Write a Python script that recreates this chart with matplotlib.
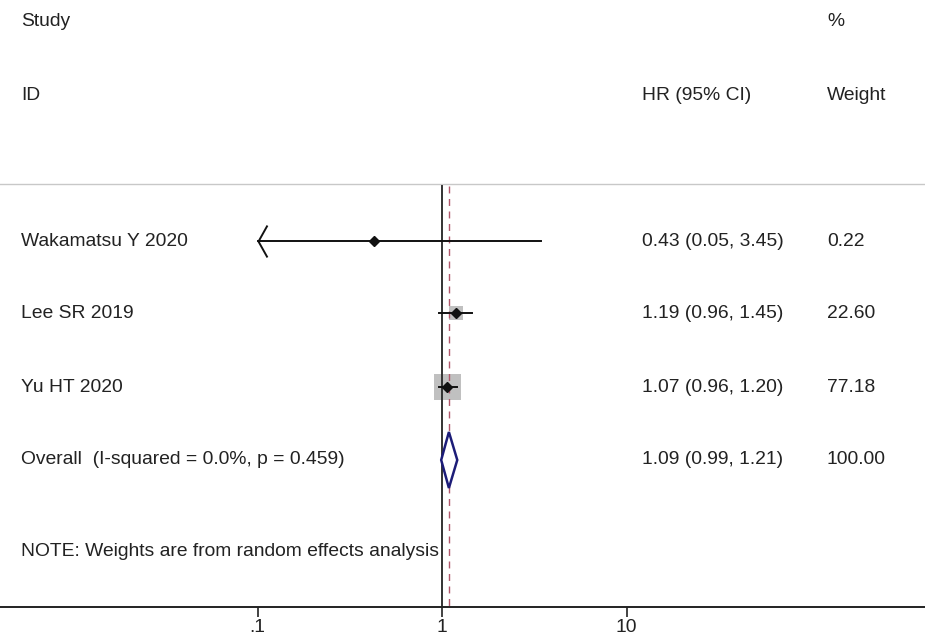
import numpy as np
import matplotlib
matplotlib.use("Agg")
import matplotlib.pyplot as plt
from matplotlib.path import Path
from matplotlib.patches import Polygon

plt.rcParams['font.family'] = ['Liberation Sans', 'DejaVu Sans']

# ── Study data ───────────────────────────────────────────────────────────────
studies = ["Wakamatsu Y 2020", "Lee SR 2019", "Yu HT 2020"]
hr      = [0.43, 1.19, 1.07]
ci_lo   = [0.05, 0.96, 0.96]
ci_hi   = [3.45, 1.45, 1.20]
weights = [0.22, 22.60, 77.18]

overall_label = "Overall  (I-squared = 0.0%, p = 0.459)"
overall_hr, overall_lo, overall_hi = 1.09, 0.99, 1.21
overall_weight = 100.00

note = "NOTE: Weights are from random effects analysis"
tick_vals   = [0.1, 1, 10]
tick_labels = [".1", "1", "10"]
x_min, x_max = 0.1, 10          # CIs beyond this get an arrow

# ── Layout (pixels) ──────────────────────────────────────────────────────────
W, H = 925, 639
AX_BOTTOM = 32
head_y = [22, 95]
row_y = [241, 313, 387]
overall_y = 460
note_y = 552
line_top = 186
sep_y = 184
px_per_dec = 184.5
x_one = 442
col_x = [21, 642, 827]
FS = 13.9

def fx(x): return x / W
def fy(y): return 1 - y / H

fig = plt.figure(figsize=(W / 100, H / 100), dpi=100)
ax = fig.add_axes([0, AX_BOTTOM / H, 1, (H - AX_BOTTOM) / H])
ax.set_xscale('log')
ax.set_xlim(10 ** (-x_one / px_per_dec), 10 ** ((W - x_one) / px_per_dec))
ax.set_ylim(H - AX_BOTTOM, 0)

for s in ['top', 'left', 'right']:
    ax.spines[s].set_visible(False)
ax.spines['bottom'].set_linewidth(1.4)
ax.spines['bottom'].set_color('#222222')
ax.set_yticks([])
ax.set_xticks(tick_vals)
ax.set_xticklabels(tick_labels)
ax.minorticks_off()
ax.tick_params(axis='x', length=7, width=1.2, color='#222222', pad=1.5,
               labelsize=FS, labelcolor='#222222')

# header separator
ax.axhline(sep_y, color='#c8c8c8', lw=1.0)

# null line and overall estimate line
ax.plot([1, 1], [line_top, H - AX_BOTTOM], color='#333333', lw=1.4, zorder=2)
ax.plot([overall_hr, overall_hr], [line_top, H - AX_BOTTOM],
        color='#b0566a', lw=1.0, ls=(0, (5, 4)), zorder=3)

# left arrow marker (tip at the data point)
arrow_left = Path([(0.56, 1), (0, 0), (0.56, -1)],
                  [Path.MOVETO, Path.LINETO, Path.LINETO])

for y, est, lo, hi, w in zip(row_y, hr, ci_lo, ci_hi, weights):
    side = 14.5 * np.sqrt(w / 22.60)
    ax.scatter([est], [y], marker='s', s=(side * 0.72) ** 2,
               color='#c0c0c0', edgecolors='none', zorder=1)
    lo_c, hi_c = max(lo, x_min), min(hi, x_max)
    ax.plot([lo_c, hi_c], [y, y], color='#111111', lw=1.4, zorder=4)
    if lo < x_min:
        ax.plot([lo_c], [y], marker=arrow_left, markersize=23,
                mfc='none', mec='#111111', mew=1.4, zorder=4)
    ax.plot([est], [y], marker='D', markersize=5.5, color='#111111', zorder=5)

# pooled estimate diamond
diamond = Polygon([(overall_lo, overall_y), (overall_hr, overall_y - 28),
                   (overall_hi, overall_y), (overall_hr, overall_y + 28)],
                  closed=True, facecolor='white', edgecolor='#1c1c78',
                  lw=1.8, zorder=4)
ax.add_patch(diamond)

# ── Text columns ─────────────────────────────────────────────────────────────
txt = dict(fontsize=FS, color='#222222', va='center', ha='left')
fig.text(fx(col_x[0]), fy(head_y[0]), "Study", **txt)
fig.text(fx(col_x[0]), fy(head_y[1]), "ID", **txt)
fig.text(fx(col_x[1]), fy(head_y[1]), "HR (95% CI)", **txt)
fig.text(fx(col_x[2]), fy(head_y[0]), "%", **txt)
fig.text(fx(col_x[2]), fy(head_y[1]), "Weight", **txt)

for y, name, est, lo, hi, w in zip(row_y, studies, hr, ci_lo, ci_hi, weights):
    fig.text(fx(col_x[0]), fy(y), name, **txt)
    fig.text(fx(col_x[1]), fy(y), f"{est:.2f} ({lo:.2f}, {hi:.2f})", **txt)
    fig.text(fx(col_x[2]), fy(y), f"{w:.2f}", **txt)

fig.text(fx(col_x[0]), fy(overall_y), overall_label, **txt)
fig.text(fx(col_x[1]), fy(overall_y),
         f"{overall_hr:.2f} ({overall_lo:.2f}, {overall_hi:.2f})", **txt)
fig.text(fx(col_x[2]), fy(overall_y), f"{overall_weight:.2f}", **txt)
fig.text(fx(col_x[0]), fy(note_y), note, **txt)

fig.savefig("out.png", dpi=100)
